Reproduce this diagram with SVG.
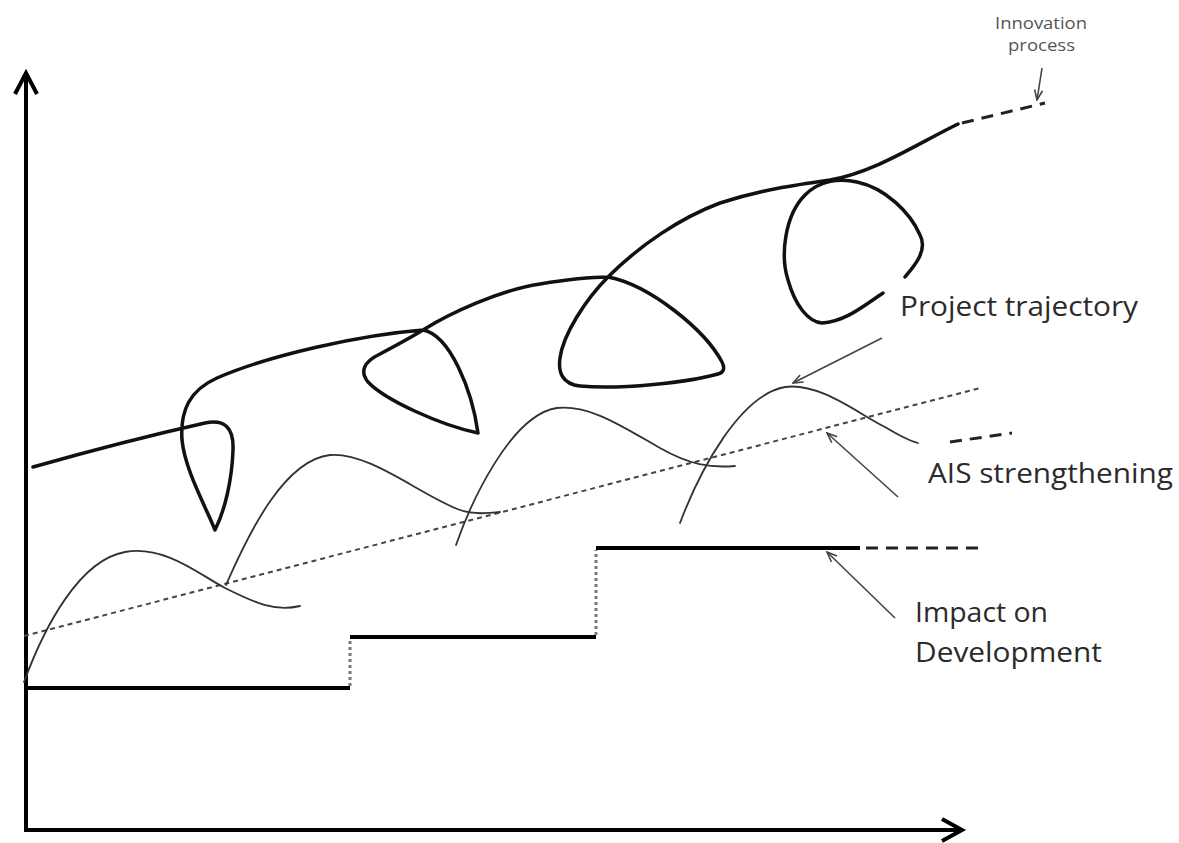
<svg xmlns="http://www.w3.org/2000/svg" width="1179" height="843" viewBox="0 0 1179 843">
<defs>
<style>
.axis{fill:none;stroke:#000;stroke-width:4;stroke-linecap:butt}
.traj{fill:none;stroke:#111;stroke-width:3.5;stroke-linecap:round;stroke-linejoin:round}
.wave{fill:none;stroke:#333;stroke-width:1.8;stroke-linecap:round}
.dotl{fill:none;stroke:#444;stroke-width:2;stroke-dasharray:5 4}
.step{fill:none;stroke:#000;stroke-width:4}
.stepv{fill:none;stroke:#777;stroke-width:3;stroke-dasharray:3 3}
.dash{fill:none;stroke:#222;stroke-width:3;stroke-dasharray:12 8}
.ann{fill:none;stroke:#444;stroke-width:1.6}
.lbl{font-family:"Open Sans","Noto Sans",sans-serif;fill:#2b2b2b;font-size:27px;font-weight:500}
.small{font-family:"Open Sans","Noto Sans",sans-serif;fill:#555;font-size:16px;font-weight:500}
</style>
<marker id="ah" markerWidth="12" markerHeight="10" refX="11" refY="5" orient="auto" markerUnits="userSpaceOnUse">
<path d="M1,1 L11,5 L1,9" fill="none" stroke="#444" stroke-width="1.6"/>
</marker>
</defs>
<rect width="1179" height="843" fill="#fff"/>
<g id="axes">
<line class="axis" x1="26" y1="832" x2="26" y2="74"/>
<polyline class="axis" points="15,94 26,73 37,94"/>
<line class="axis" x1="24" y1="830" x2="961" y2="830"/>
<polyline class="axis" points="942,819 962,830 942,841"/>
</g>
<g id="impact-development">
<path class="step" d="M24,688 H350 M350,637 H596 M596,548 H860"/>
<path class="stepv" d="M350,686 V639 M596,635 V550"/>
<line class="dash" x1="866" y1="548" x2="985" y2="548"/>
</g>
<g id="ais-strengthening">
<line class="dotl" x1="24" y1="636" x2="980" y2="388"/>
</g>
<g id="project-waves">
<path class="wave" d="M24,682 C45,625 80,560 125,552 C165,545 200,575 225,588 C255,603 275,612 300,606"/>
<path class="wave" d="M226,585 C250,530 285,460 330,455 C370,452 420,495 460,510 C475,515 490,513 500,512"/>
<path class="wave" d="M456,545 C470,505 510,415 557,408 C590,405 620,425 660,448 C690,465 710,468 735,466"/>
<path class="wave" d="M680,523 C700,470 740,395 785,387 C820,382 860,415 885,427 C900,436 910,441 918,443"/>
<line class="dash" x1="950" y1="442" x2="1012" y2="433"/>
</g>
<g id="innovation-process">
<path class="traj" d="M33,467 C100,448 165,432 205,423 C225,419 234,428 233,450 C232,480 225,510 215,530 C205,505 185,470 182,440 C180,410 190,390 217,378 C270,355 360,335 423,330 C450,335 472,390 478,433 C440,425 385,400 368,382 C360,372 363,362 380,354 C395,346 410,338 423,330 C450,313 500,290 540,284 C570,279 590,277 608,277 C650,285 705,330 722,362 C726,370 722,373 718,374 C690,382 620,390 580,386 C562,384 558,372 560,358 C563,335 585,300 608,277 C640,245 680,218 720,203 C760,190 795,185 830,180 C875,172 915,145 958,124"/>
<path class="traj" d="M905,277 C915,265 928,250 920,235 C910,212 885,188 857,182 C840,178 820,180 805,195 C785,215 780,255 788,280 C795,305 808,322 822,323 C845,322 865,305 883,293"/>
<line class="dash" x1="962" y1="123" x2="1045" y2="103"/>
</g>
<g id="connectors">
<line class="ann" x1="882" y1="338" x2="793" y2="383" marker-end="url(#ah)"/>
<line class="ann" x1="898" y1="497" x2="827" y2="433" marker-end="url(#ah)"/>
<line class="ann" x1="895" y1="618" x2="827" y2="552" marker-end="url(#ah)"/>
<line class="ann" x1="1042" y1="68" x2="1037" y2="100" marker-end="url(#ah)"/>
</g>
<g id="labels">
<text class="lbl" x="900" y="316" textLength="238" lengthAdjust="spacingAndGlyphs">Project trajectory</text>
<text class="lbl" x="928" y="483" textLength="245" lengthAdjust="spacingAndGlyphs">AIS strengthening</text>
<text class="lbl" x="915" y="622" textLength="133" lengthAdjust="spacingAndGlyphs">Impact on</text>
<text class="lbl" x="915" y="662" textLength="187" lengthAdjust="spacingAndGlyphs">Development</text>
<text class="small" x="995" y="29" textLength="92" lengthAdjust="spacingAndGlyphs">Innovation</text>
<text class="small" x="1008" y="51" textLength="67" lengthAdjust="spacingAndGlyphs">process</text>
</g>
</svg>
